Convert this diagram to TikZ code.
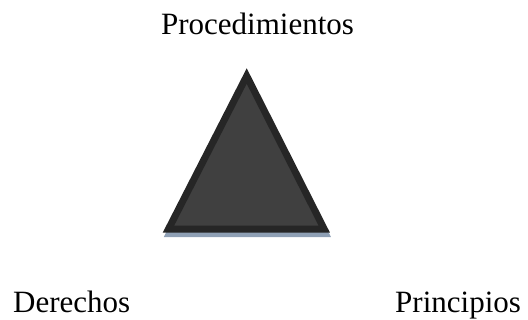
\documentclass[tikz,border=0pt]{standalone}
\usepackage{fontspec}
\setmainfont{Liberation Serif}
\definecolor{trifill}{HTML}{404040}
\definecolor{triline}{HTML}{262626}
\definecolor{trishadow}{HTML}{8FA0B5}
\begin{document}
\begin{tikzpicture}[x=1pt,y=1pt,
    corner/.style={font=\fontsize{31}{37}\selectfont, inner sep=0pt},
    tri/.style={line width=7pt, miter limit=10}]
                \useasboundingbox (0,0) rectangle (528,320);
                \coordinate (A) at (246.7,244);
                \coordinate (B) at (168.4,90.8);
                \coordinate (C) at (324.3,90.8);
                \draw[tri, trishadow, fill=trishadow] ([shift={(1,-4.5)}]A) -- ([shift={(1,-4.5)}]B) -- ([shift={(1,-4.5)}]C) -- cycle;
                \draw[tri, triline, fill=trifill] (A) -- (B) -- (C) -- cycle;
                \node[corner, anchor=base] (P) at (257.5,285) {Procedimientos};
                \node[corner, anchor=base west] (D) at (13,7) {Derechos};
                \node[corner, anchor=base west] (R) at (395,7) {Principios};
            \end{tikzpicture}
\end{document}
